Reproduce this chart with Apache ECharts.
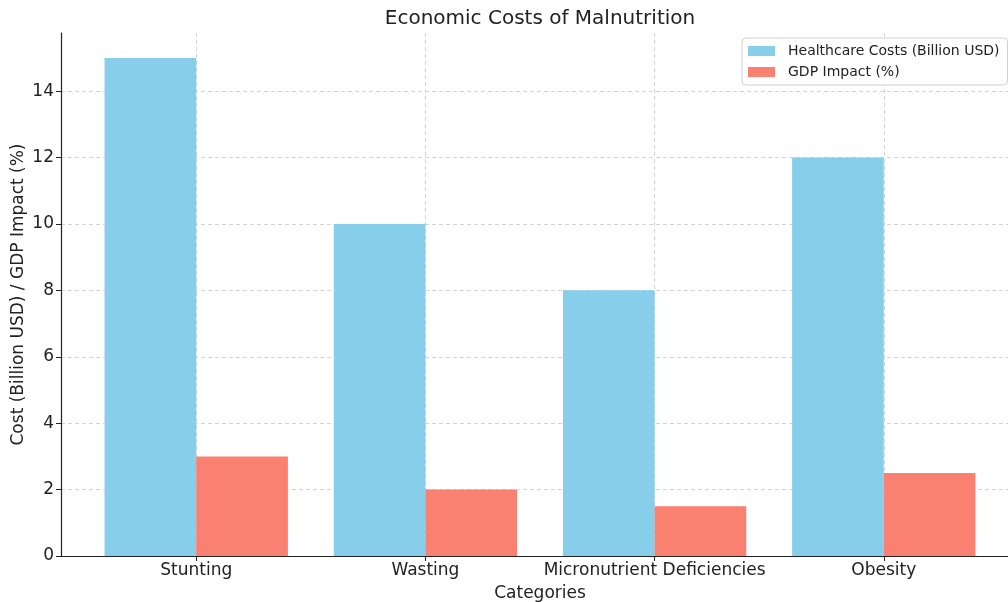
<!DOCTYPE html>
<html>
<head>
<meta charset="utf-8">
<script src="https://cdn.jsdelivr.net/npm/echarts@6/dist/echarts.min.js"></script>
<style>html,body{margin:0;padding:0;background:#fff;}#c{width:1008px;height:602px;}</style>
</head>
<body>
<div id="c"></div>
<script>
const categories = ['Stunting', 'Wasting', 'Micronutrient Deficiencies', 'Obesity'];
const healthcareCosts = [15, 10, 8, 12];
const gdpImpact = [3, 2, 1.5, 2.5];
const yTicks = [0, 2, 4, 6, 8, 10, 12, 14];
const seriesNames = ['Healthcare Costs (Billion USD)', 'GDP Impact (%)'];

const chart = echarts.init(document.getElementById('c'), null, {renderer: 'canvas'});
const FONT = 'DejaVu Sans';
const BAR_W = 0.4;
function makeRender(offset) {
  return function (params, api) {
    const i = api.value(0), v = api.value(1);
    const p0 = api.coord([i + offset - BAR_W / 2, v]);
    const p1 = api.coord([i + offset + BAR_W / 2, 0]);
    return {type: 'rect', shape: {x: p0[0], y: p0[1], width: p1[0] - p0[0], height: p1[1] - p0[1]},
      style: {fill: api.visual('color')}};
  };
}
const catIdx = categories.map((_, i) => i);
const gridLine = {show: true, lineStyle: {color: '#d4d4d4', type: [4, 3], width: 1}};
chart.setOption({
  animation: false,
  textStyle: {fontFamily: FONT},
  title: {text: 'Economic Costs of Malnutrition', left: 535, top: 4, textAlign: 'center',
    textStyle: {fontFamily: FONT, fontSize: 20, fontWeight: 'normal', color: '#222'}},
  legend: {orient: 'vertical', left: 742, top: 38, itemWidth: 27, itemHeight: 10, itemGap: 7,
    icon: 'rect', padding: [6, 8, 6, 6], backgroundColor: 'rgba(255,255,255,0.8)',
    borderColor: '#d0d0d0', borderWidth: 1, borderRadius: 4,
    textStyle: {fontFamily: FONT, fontSize: 14, color: '#222', padding: [0, 0, 0, 8]},
    data: seriesNames},
  grid: {left: 61, right: -11, top: 33, bottom: 46, containLabel: false, outerBoundsMode: 'none'},
  xAxis: {type: 'value', min: -0.59, max: 3.59,
    name: 'Categories', nameLocation: 'middle', nameGap: 29, nameMoveOverlap: false,
    nameTextStyle: {fontFamily: FONT, fontSize: 17, color: '#222'},
    axisLine: {show: true, onZero: false, lineStyle: {color: '#222', width: 1.2}},
    axisTick: {show: true, length: 5, customValues: catIdx, lineStyle: {color: '#222'}},
    axisLabel: {customValues: catIdx, margin: 6, fontFamily: FONT, fontSize: 17, color: '#222',
      formatter: v => categories[Math.round(v)] || ''},
    splitLine: gridLine},
  yAxis: {type: 'value', min: 0, max: 15.75,
    name: 'Cost (Billion USD) / GDP Impact (%)', nameLocation: 'middle', nameGap: 34, nameMoveOverlap: false,
    nameTextStyle: {fontFamily: FONT, fontSize: 17, color: '#222'},
    axisLine: {show: true, onZero: false, lineStyle: {color: '#222', width: 1.2}},
    axisTick: {show: true, length: 5, customValues: yTicks, lineStyle: {color: '#222'}},
    axisLabel: {customValues: yTicks, margin: 7, fontFamily: FONT, fontSize: 17, color: '#222'},
    splitLine: gridLine},
  series: [
    {name: seriesNames[0], type: 'custom', itemStyle: {color: '#87CEEB'},
      renderItem: makeRender(-BAR_W / 2), data: healthcareCosts.map((v, i) => [i, v])},
    {name: seriesNames[1], type: 'custom', itemStyle: {color: '#FA8072'},
      renderItem: makeRender(BAR_W / 2), data: gdpImpact.map((v, i) => [i, v])}
  ]
});
</script>
</body>
</html>
